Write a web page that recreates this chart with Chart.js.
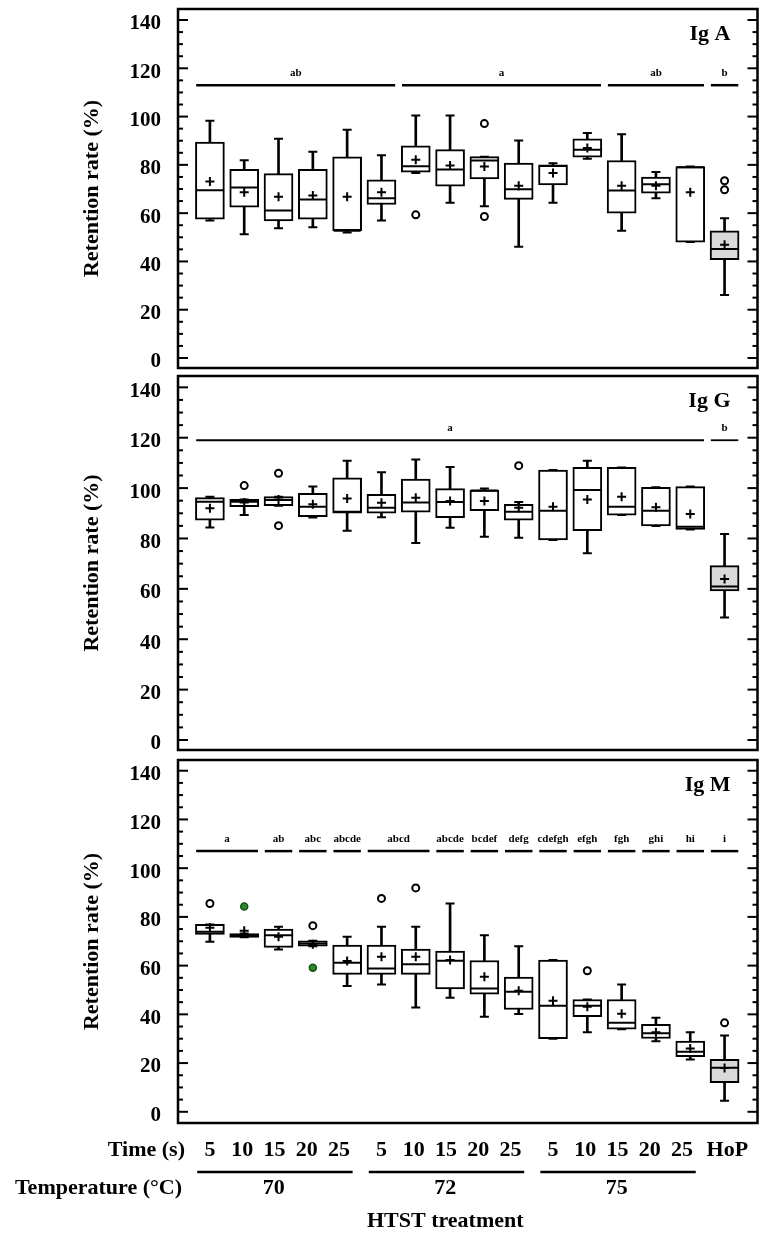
<!DOCTYPE html>
<html>
<head>
<meta charset="utf-8">
<title>Immunoglobulin retention after HTST treatment</title>
<script src="https://cdn.jsdelivr.net/npm/chart.js@4.4.1/dist/chart.umd.min.js"></script>
<style>
  body { margin: 0; background: #fff; width: 765px; height: 1234px; overflow: hidden; position: relative; }
  canvas { position: absolute; left: 0; }
</style>
</head>
<body>
<canvas id="chartIgA" width="773" height="439" style="top:-31px"></canvas>
<canvas id="chartIgG" width="773" height="454" style="top:336px"></canvas>
<canvas id="chartIgM" width="773" height="514" style="top:720px"></canvas>
<script>
// categories: 5 holding times at 70, 72, 75 °C, then Holder pasteurisation
var timeLabels = ['5', '10', '15', '20', '25', '5', '10', '15', '20', '25', '5', '10', '15', '20', '25', 'HoP'];
var tempGroups = [['70', 0, 4], ['72', 5, 9], ['75', 10, 14]];
var yTickValues = [0, 20, 40, 60, 80, 100, 120, 140];

// Ig A
var igaMin  = [57, 51.3, 53.7, 54.2, 52, 57, 76.6, 64.3, 62.9, 46.1, 64.3, 82.5, 52.7, 66.2, 48, 26.1];
var igaQ1   = [57.5, 62.5, 56.8, 57.5, 52.7, 63.6, 77, 71.2, 74.2, 65.7, 71.7, 83.2, 60, 68.3, 48, 40.7];
var igaMed  = [69.5, 70.6, 61.1, 65.7, 52.7, 66.2, 79.4, 78.1, 81.8, 69.9, 79.5, 86.3, 69.4, 72, 79, 45.1];
var igaQ3   = [89.4, 78.2, 76.4, 78.1, 83.3, 73.8, 87.9, 86.3, 83.4, 80.7, 80, 90.8, 81.8, 74.9, 79.3, 52.7];
var igaMax  = [98.3, 81.9, 90.8, 85.4, 94.5, 84, 100.4, 100.4, 83.4, 90.1, 80.7, 93.2, 92.7, 77, 79.3, 57.9];
var igaMean = [73.1, 68.7, 66.8, 67.3, 66.8, 68.7, 82.1, 79.7, 79.3, 71.3, 76.6, 87, 71.3, 71.3, 68.7, 46.9];
var igaOutliers = [[6, 59.3], [8, 97.1], [8, 58.6], [15, 73.4], [15, 69.7]];
var igaGroups = [['ab', 0, 5], ['a', 6, 11], ['ab', 12, 14], ['b', 15, 15]];
var igaGroupY = 113;

// Ig G
var iggMin  = [84.4, 89.3, 93, 88.3, 83.1, 88.4, 78.2, 84.3, 80.7, 80.3, 79.4, 74.1, 89.3, 85, 83.6, 48.6];
var iggQ1   = [87.3, 92.6, 93, 88.7, 90, 90, 90.4, 88.3, 91, 87.3, 79.4, 83.1, 89.3, 85, 83.6, 59.2];
var iggMed  = [94.6, 94.6, 95.3, 92.6, 90.6, 92.2, 94.3, 94.5, 99, 90.6, 91, 99.2, 92.6, 91, 84.7, 60.9];
var iggQ3   = [96.2, 95.5, 96.6, 97.9, 104.1, 97.5, 103.6, 99.8, 99.2, 93.6, 107.2, 108.2, 108.2, 100.3, 100.6, 69.2];
var iggMax  = [96.6, 95.5, 96.6, 100.6, 110.9, 106.3, 111.4, 108.4, 99.8, 94.5, 107.2, 110.9, 108.2, 100.3, 100.6, 81.8];
var iggMean = [92, 94.3, 95.5, 93.6, 95.9, 94.2, 96.2, 94.9, 94.9, 92.2, 92.6, 95.5, 96.6, 92.4, 89.7, 63.9];
var iggOutliers = [[1, 101], [2, 105.9], [2, 85.1], [9, 108.9]];
var iggGroups = [['a', 0, 14], ['b', 15, 15]];
var iggGroupY = 119;

// Ig M
var igmMin  = [69.8, 71.6, 66.6, 68, 51.6, 52.3, 42.8, 46.8, 39, 40.1, 30, 32.7, 33.9, 29, 21.5, 4.5];
var igmQ1   = [72.8, 71.6, 67.5, 68, 56.4, 56.4, 56.4, 50.4, 48.3, 42, 30, 39, 33.9, 30.1, 22.6, 12];
var igmMed  = [73.9, 72.5, 72.5, 69.1, 61.2, 58.8, 60.6, 62, 50.6, 49.3, 43.5, 43.5, 36.5, 32.2, 24.6, 18.1];
var igmQ3   = [76.9, 73.2, 75, 70.2, 68.4, 68.4, 66.8, 66, 62.1, 55.3, 62.3, 46.1, 46.1, 35.9, 29, 21.5];
var igmMax  = [76.9, 73.2, 76, 70.2, 71.8, 76, 76, 85.5, 72.5, 68, 62.3, 46.1, 52.3, 38.6, 32.7, 31.3];
var igmMean = [75.5, 74.3, 71.8, 68.8, 61.9, 63.6, 63.6, 62.3, 55.4, 49.7, 45.6, 43.1, 40.2, 32.7, 26, 18];
var igmOutliers = [[0, 85.5], [3, 76.4], [5, 87.6], [6, 91.9], [11, 57.9], [15, 36.5]];
var igmFlagged = [[1, 84.3], [3, 59.1]];
var igmGroups = [['a', 0, 1], ['ab', 2, 2], ['abc', 3, 3], ['abcde', 4, 4], ['abcd', 5, 6], ['abcde', 7, 7],
  ['bcdef', 8, 8], ['defg', 9, 9], ['cdefgh', 10, 10], ['efgh', 11, 11], ['fgh', 12, 12], ['ghi', 13, 13],
  ['hi', 14, 14], ['i', 15, 15]];
var igmGroupY = 107;

var SERIF = "'Liberation Serif', 'Times New Roman', serif";
Chart.defaults.font.family = SERIF;
Chart.defaults.color = '#000';

function points(values) {
  return values.map(function (v, i) { return { x: i, y: v }; });
}

function pairs(list) {
  return list.map(function (p) { return { x: p[0], y: p[1] }; });
}

// Build the datasets that make up one box plot panel
function boxDatasets(min, q1, med, q3, max, mean, outliers, flagged) {
  var hopIndex = timeLabels.length - 1;
  var marker = function (label, data, style, radius, order) {
    return {
      type: 'line', label: label, data: data, showLine: false, order: order,
      pointStyle: style, pointRadius: radius, pointBorderWidth: 2,
      pointBorderColor: '#000', pointBackgroundColor: '#fff'
    };
  };
  var sets = [
    marker('Mean', points(mean), 'cross', 4.5, 0),
    marker('Outliers', pairs(outliers), 'circle', 3.5, 1),
    marker('Median', points(med), 'line', 13.5, 2),
    {
      type: 'bar', label: 'IQR', order: 3, grouped: false,
      data: q1.map(function (v, i) { return { x: i, y: [v, q3[i]] }; }),
      backgroundColor: q1.map(function (v, i) { return i === hopIndex ? '#d9d9d9' : '#fff'; }),
      borderColor: '#000', borderWidth: 2, borderSkipped: false,
      barThickness: 29, maxBarThickness: 29
    },
    marker('Max', points(max), 'line', 4.5, 4),
    marker('Min', points(min), 'line', 4.5, 4),
    {
      type: 'bar', label: 'Whisker', order: 5, grouped: false,
      data: min.map(function (v, i) { return { x: i, y: [v, max[i]] }; }),
      backgroundColor: '#000', borderWidth: 0,
      barThickness: 2, maxBarThickness: 2
    }
  ];
  if (flagged) {
    var f = marker('Flagged', pairs(flagged), 'circle', 3.5, 1);
    f.pointBackgroundColor = '#2b8a2b';
    f.pointBorderColor = '#145214';
    f.pointBorderWidth = 1.5;
    sets.push(f);
  }
  return sets;
}

function strokeLine(ctx, x1, y1, x2, y2) {
  ctx.beginPath();
  ctx.moveTo(x1, y1);
  ctx.lineTo(x2, y2);
  ctx.stroke();
}

// Frame, inward ticks, significance groups, panel name and the treatment axis
var panelDecor = {
  id: 'panelDecor',
  afterDraw: function (chart, args, opts) {
    var ctx = chart.ctx, area = chart.chartArea;
    var xs = chart.scales.x, ys = chart.scales.y;
    ctx.save();
    ctx.strokeStyle = '#000';
    ctx.fillStyle = '#000';

    ctx.lineWidth = 2;
    for (var v = 0; v <= 140; v += 5) {
      var py = ys.getPixelForValue(v);
      var len = v % 20 === 0 ? 10 : 5;
      strokeLine(ctx, area.left, py, area.left + len, py);
      strokeLine(ctx, area.right - len, py, area.right, py);
    }
    ctx.lineWidth = 2.5;
    ctx.strokeRect(area.left, area.top, area.right - area.left, area.bottom - area.top);

    // letters of the significance groups
    var gy = ys.getPixelForValue(opts.groupY);
    ctx.lineWidth = opts.groupLine;
    ctx.font = 'bold 11px ' + SERIF;
    ctx.textAlign = 'center';
    ctx.textBaseline = 'middle';
    opts.groups.forEach(function (g) {
      var x1 = xs.getPixelForValue(g[1] - 0.4);
      var x2 = xs.getPixelForValue(g[2] + 0.4);
      strokeLine(ctx, x1, gy, x2, gy);
      ctx.fillText(g[0], (x1 + x2) / 2, gy - 12);
    });

    ctx.font = 'bold 22px ' + SERIF;
    ctx.textAlign = 'right';
    ctx.fillText(opts.name, area.right - 27, area.top + 25);

    if (opts.treatmentAxis) {
      var rowTime = area.bottom + 27, rowLine = area.bottom + 49;
      var rowTemp = area.bottom + 65, rowTitle = area.bottom + 98;
      ctx.font = 'bold 22px ' + SERIF;
      ctx.textAlign = 'right';
      ctx.fillText('Time (s)', 185, rowTime);
      ctx.fillText('Temperature (\u00b0C)', 182, rowTemp);
      ctx.textAlign = 'center';
      tempGroups.forEach(function (g) {
        var mid = (g[1] + g[2]) / 2;
        for (var i = g[1]; i <= g[2]; i++) {
          ctx.fillText(timeLabels[i], xs.getPixelForValue(mid - 0.12 + (i - mid) * 0.94), rowTime);
        }
        ctx.lineWidth = 2.5;
        strokeLine(ctx, xs.getPixelForValue(g[1] - 0.37), rowLine, xs.getPixelForValue(g[2] + 0.16), rowLine);
        ctx.fillText(g[0], xs.getPixelForValue(mid - 0.14), rowTemp);
      });
      var hop = timeLabels.length - 1;
      ctx.fillText(timeLabels[hop], xs.getPixelForValue(hop + 0.08), rowTime);
      ctx.fillText('HTST treatment', xs.getPixelForValue(6.86), rowTitle);
    }
    ctx.restore();
  }
};

function makePanel(id, name, datasets, groups, groupY, groupLine, yMin, yMax, bottomPad, treatmentAxis) {
  return new Chart(document.getElementById(id), {
    type: 'bar',
    data: { datasets: datasets },
    options: {
      responsive: false,
      animation: false,
      events: [],
      layout: { padding: { left: 0, right: 0, top: 40, bottom: bottomPad } },
      plugins: {
        legend: { display: false },
        tooltip: { enabled: false },
        panelDecor: { name: name, groups: groups, groupY: groupY, groupLine: groupLine, treatmentAxis: treatmentAxis }
      },
      scales: {
        x: { type: 'linear', min: -0.93, max: 15.96, offset: false, display: false },
        y: {
          min: yMin, max: yMax,
          grid: { display: false, drawTicks: false },
          border: { display: false },
          afterBuildTicks: function (scale) {
            scale.ticks = yTickValues.map(function (v) { return { value: v }; });
          },
          afterFit: function (scale) { scale.width = 178; },
          ticks: {
            padding: 17, labelOffset: 4,
            font: { size: 21, weight: 'bold' },
            callback: function (value) { return String(value); }
          },
          title: {
            display: true, text: 'Retention rate (%)',
            font: { size: 22, weight: 'bold' },
            padding: { top: 79, bottom: 0 }
          }
        }
      }
    },
    plugins: [panelDecor]
  });
}

makePanel('chartIgA', 'Ig A',
  boxDatasets(igaMin, igaQ1, igaMed, igaQ3, igaMax, igaMean, igaOutliers),
  igaGroups, igaGroupY, 2.5, -4.14, 144.56, 40, false);
makePanel('chartIgG', 'Ig G',
  boxDatasets(iggMin, iggQ1, iggMed, iggQ3, iggMax, iggMean, iggOutliers),
  iggGroups, iggGroupY, 1.8, -3.97, 144.5, 40, false);
makePanel('chartIgM', 'Ig M',
  boxDatasets(igmMin, igmQ1, igmMed, igmQ3, igmMax, igmMean, igmOutliers, igmFlagged),
  igmGroups, igmGroupY, 2.5, -4.6, 144.4, 111, true);
</script>
</body>
</html>
